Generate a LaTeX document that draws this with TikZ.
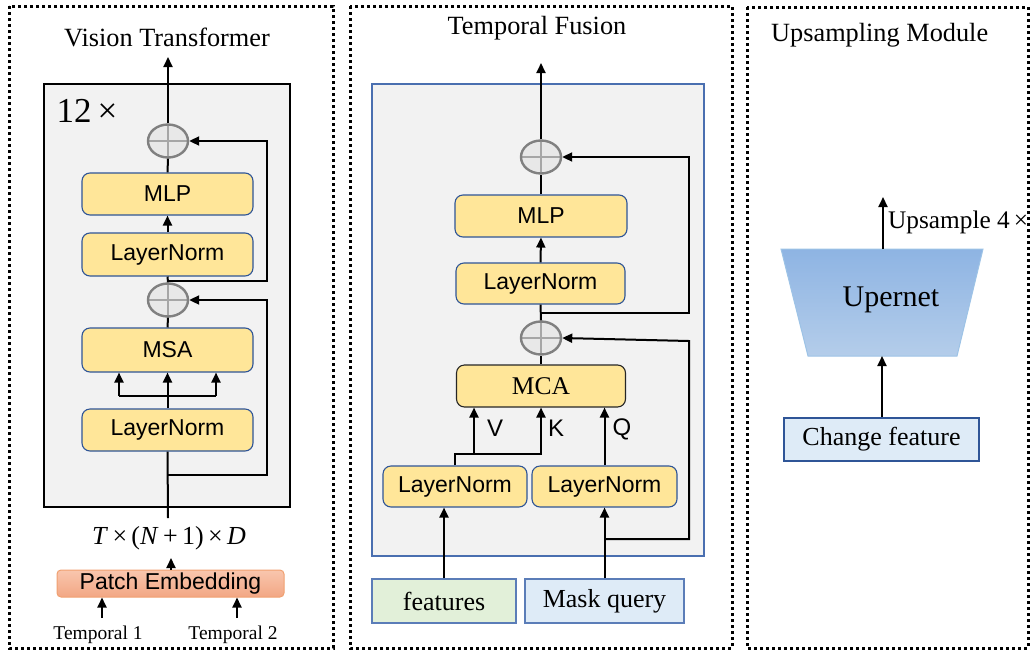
\documentclass[tikz,border=0pt]{standalone}
\usepackage{fontspec}
\setmainfont{Liberation Serif}
\setsansfont{Liberation Sans}
\usetikzlibrary{arrows.meta,shapes.geometric,calc}
\definecolor{ylw}{HTML}{FFE699}
\definecolor{boxblue}{HTML}{2F5597}
\definecolor{lgray}{HTML}{F2F2F2}
\definecolor{pgray}{HTML}{808080}
\definecolor{cgray}{HTML}{A6A6A6}
\definecolor{pfill}{HTML}{E8E8E8}
\definecolor{featg}{HTML}{E2F0D9}
\definecolor{qblue}{HTML}{DEEBF7}
\definecolor{midblue}{HTML}{5B7DB8}
\definecolor{tfblue}{HTML}{4A6FB0}
\definecolor{trtop}{HTML}{8EB4E3}
\definecolor{trbot}{HTML}{B4CDEA}
\definecolor{trline}{HTML}{9DC3E6}
\definecolor{patchtop}{HTML}{F9C6AE}
\definecolor{patchbot}{HTML}{F2A784}
\definecolor{patchline}{HTML}{F0A070}
\tikzset{
  x=1pt, y=-1pt,
  panel/.style={line width=3pt, dash pattern=on 3pt off 3pt},
  ybox/.style={draw=boxblue, line width=1.1pt, fill=ylw, rounded corners=8pt,
    inner sep=0pt, font=\sffamily\fontsize{23}{27}\selectfont},
  grayframe/.style={fill=lgray, inner sep=0pt},
  plusnode/.style={ellipse, draw=pgray, line width=2.4pt, fill=pfill, inner sep=0pt,
    minimum width=40pt, minimum height=33pt,
    path picture={\draw[cgray, line width=1.5pt]
      (path picture bounding box.north) -- (path picture bounding box.south)
      (path picture bounding box.west) -- (path picture bounding box.east);}},
  arr/.style={line width=2pt, -{Triangle[length=10pt,width=9pt]}},
  ln/.style={line width=2pt},
  title/.style={font=\fontsize{26.3}{31}\selectfont, inner sep=0pt},
  serifbox/.style={font=\fontsize{26}{30}\selectfont, inner sep=0pt},
  lab/.style={font=\sffamily\fontsize{24}{28}\selectfont, inner sep=0pt}
}
\begin{document}
\begin{tikzpicture}
\useasboundingbox (0,0) rectangle (1032,656);
% panels
\draw[panel] (9,6) rectangle (333,648);
\draw[panel] (350,6) rectangle (732,648);
\draw[panel] (747,7) rectangle (1028,648);

% ===== Panel 1: Vision Transformer =====
\node[title] (vttitle) at (167,37) {Vision Transformer};
\node[grayframe, draw=black, line width=1.5pt, minimum width=246pt, minimum height=423pt] (vt) at (167,295.5) {};
\node[font=\fontsize{35}{40}\selectfont, inner sep=0pt] (twelve) at (87,111) {12\,×};
\node[plusnode] (p1a) at (168,141) {};
\node[ybox, minimum width=171pt, minimum height=42pt] (mlpA) at (167.5,194) {MLP};
\node[ybox, minimum width=171pt, minimum height=43pt] (lnA) at (167.5,254.5) {LayerNorm};
\node[plusnode] (p1b) at (168,300) {};
\node[ybox, minimum width=171pt, minimum height=44pt] (msa) at (167.5,350) {MSA};
\node[ybox, minimum width=171pt, minimum height=42pt] (lnB) at (167.5,430) {LayerNorm};
\node[font=\fontsize{26}{30}\selectfont, inner sep=0pt] (tnd) at (169,538) {\textit{T}\,×\,(\textit{N}\,+\,1)\,×\,\textit{D}};
\node[draw=patchline, line width=1pt, top color=patchtop, bottom color=patchbot, rounded corners=4pt,
  minimum width=227pt, minimum height=27pt, inner sep=0pt, font=\sffamily\fontsize{23}{27}\selectfont] (patch) at (170.5,583.5) {Patch Embedding};
\node[font=\fontsize{19.5}{23}\selectfont, inner sep=0pt] (t1) at (98,635) {Temporal 1};
\node[font=\fontsize{19.5}{23}\selectfont, inner sep=0pt] (t2) at (233,635) {Temporal 2};

\coordinate (outA) at (168,57);
\coordinate (s1) at (168,281);
\coordinate (s1r) at (267,141);
\coordinate (s2) at (168,475);
\coordinate (s2r) at (267,300);
\coordinate (inA) at (168,518);
\coordinate (br) at (168,396);
\coordinate (brl) at (119,396);
\coordinate (brr) at (216,396);
\coordinate (pe) at (171,558);
\coordinate (ta1) at (102,618);
\coordinate (ta2) at (237,618);

\draw[arr] (p1a.north) -- (outA);
\draw[ln] (mlpA.north) -- (p1a.south);
\draw[arr] (lnA.north) -- (mlpA.south);
\draw[ln] (p1b.north) -- (lnA.south);
\draw[arr] (s1) -| (s1r) -- (p1a.east);
\draw[ln] (msa.north) -- (p1b.south);
\draw[arr] (s2) -| (s2r) -- (p1b.east);
\draw[arr] (lnB.north) -- (msa.south);
\draw[ln] (brl) -- (brr);
\draw[arr] (brl) -- (brl |- msa.south);
\draw[arr] (brr) -- (brr |- msa.south);
\draw[ln] (inA) -- (lnB.south);
\draw[arr] (patch.north -| pe) -- (pe);
\draw[arr] (ta1) -- (ta1 |- patch.south);
\draw[arr] (ta2) -- (ta2 |- patch.south);

% ===== Panel 2: Temporal Fusion =====
\node[title] (tftitle) at (537,28) {Temporal Fusion};
\node[grayframe, draw=tfblue, line width=1.2pt, minimum width=332pt, minimum height=472pt] (tf) at (538,320) {};
\node[plusnode] (p2a) at (541,157) {};
\node[ybox, minimum width=172pt, minimum height=42pt] (mlpB) at (541,216) {MLP};
\node[ybox, minimum width=169pt, minimum height=41pt] (lnC) at (540.5,283.5) {LayerNorm};
\node[plusnode] (p2b) at (541,338) {};
\node[ybox, draw=black!85, minimum width=169pt, minimum height=42pt, font=\fontsize{25.5}{30}\selectfont] (mca) at (541,386) {MCA};
\node[ybox, minimum width=144pt, minimum height=41pt] (lnL) at (455,486.5) {LayerNorm};
\node[ybox, minimum width=145pt, minimum height=41pt] (lnR) at (604.5,486.5) {LayerNorm};
\node[serifbox, draw=midblue, line width=1.2pt, fill=featg, minimum width=144pt, minimum height=44pt] (feat) at (444,601) {features};
\node[serifbox, draw=midblue, line width=1.2pt, fill=qblue, minimum width=159pt, minimum height=44pt] (mask) at (604.5,601) {Mask query};
\node[lab] (lv) at (495,428) {V};
\node[lab] (lk) at (556,428) {K};
\node[lab] (lq) at (622,429) {Q};

\coordinate (outB) at (541,63);
\coordinate (s3) at (541,313);
\coordinate (s3r) at (689,157);
\coordinate (s4) at (604.5,539);
\coordinate (s4r) at (689,341);
\coordinate (vkj) at (541,454);
\coordinate (vj) at (474,454);

\draw[arr] (p2a.north) -- (outB);
\draw[ln] (mlpB.north) -- (p2a.south);
\draw[arr] (lnC.north) -- (mlpB.south);
\draw[ln] (p2b.north) -- (lnC.south);
\draw[arr] (s3) -| (s3r) -- (p2a.east);
\draw[ln] (mca.north) -- (p2b.south);
\draw[arr] (s4) -| (s4r) -- (p2b.east);
\draw[arr] (lnL.north) |- (vkj) -- (mca.south);
\draw[arr] (vj) -- (vj |- mca.south);
\draw[arr] (lnR.north) -- (lnR.north |- mca.south);
\draw[arr] (feat.north) -- (feat.north |- lnL.south);
\draw[arr] (mask.north) -- (lnR.south);

% ===== Panel 3: Upsampling Module =====
\node[title, anchor=west] (umtitle) at (771,35) {Upsampling Module};
\shade[top color=trtop, bottom color=trbot] (781,249) -- (983,249) -- (957,356) -- (808,356) -- cycle;
\draw[trline, line width=1pt] (781,249) -- (983,249) -- (957,356) -- (808,356) -- cycle;
\node[font=\fontsize{30}{35}\selectfont, inner sep=0pt] (uper) at (891,300) {Upernet};
\node[serifbox, draw=boxblue, line width=1.6pt, fill=qblue, minimum width=195pt, minimum height=43pt] (chg) at (881.5,439.5) {Change feature};
\node[font=\fontsize{25.3}{29}\selectfont, inner sep=0pt, anchor=west] (ups) at (888,222) {Upsample 4\,×};
\coordinate (ut) at (883,249);
\coordinate (ub) at (882,356);
\coordinate (uo) at (883,197);
\draw[arr] (chg.north -| ub) -- (ub);
\draw[arr] (ut) -- (uo);
\end{tikzpicture}
\end{document}
